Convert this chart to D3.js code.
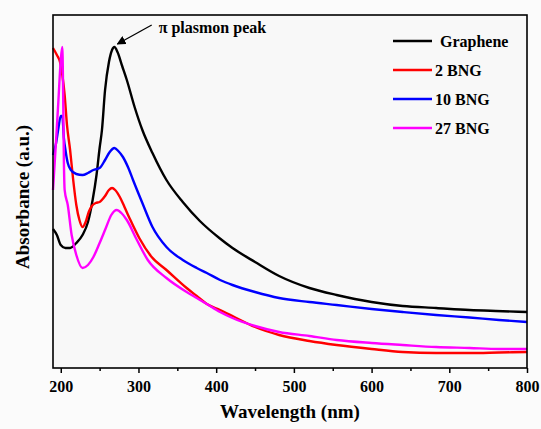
<!DOCTYPE html>
<html>
<head>
<meta charset="utf-8">
<script src="https://cdn.jsdelivr.net/npm/d3@7"></script>
<style>
  html, body { margin: 0; padding: 0; background: #fbfbfb; }
  svg { display: block; }
  text { font-family: "Liberation Serif", "Times New Roman", serif; font-weight: bold; fill: #000; }
</style>
</head>
<body>
<svg id="chart"></svg>
<script>
// wavelength (nm), absorbance (a.u.)
const graphene = [[190,1.39],[195,1.33],[200,1.23],[206,1.20],[212,1.20],[220,1.25],[228,1.33],[235,1.46],[241,1.68],[246,1.93],[250,2.20],[253,2.38],[257,2.78],[262,3.06],[266,3.18],[269,3.21],[273,3.16],[279,3.02],[285,2.88],[295,2.61],[305,2.38],[318,2.15],[336,1.88],[357,1.66],[379,1.47],[404,1.30],[421,1.20],[450,1.06],[481,0.92],[520,0.80],[555,0.73],[600,0.66],[640,0.62],[683,0.60],[726,0.58],[760,0.57],[800,0.56]];
const bng2 = [[190,3.20],[195,3.13],[199,3.06],[202,2.93],[205,2.73],[208,2.43],[212,2.18],[216,1.88],[220,1.63],[224,1.48],[228,1.41],[232,1.46],[236,1.56],[240,1.62],[245,1.65],[250,1.66],[257,1.72],[262,1.78],[266,1.80],[270,1.78],[276,1.71],[282,1.61],[289,1.49],[301,1.30],[317,1.11],[336,0.98],[362,0.80],[375,0.72],[388,0.64],[405,0.58],[421,0.52],[450,0.41],[481,0.33],[520,0.27],[555,0.23],[600,0.19],[640,0.16],[683,0.15],[726,0.15],[764,0.155],[800,0.16]];
const bng10 = [[190,2.13],[194,2.25],[197,2.40],[200,2.52],[202,2.52],[204,2.30],[206,2.18],[209,2.05],[213,1.98],[220,1.94],[228,1.93],[235,1.95],[242,1.98],[250,2.00],[257,2.08],[263,2.16],[269,2.20],[274,2.17],[280,2.11],[287,2.00],[293,1.88],[305,1.65],[318,1.41],[336,1.21],[357,1.08],[375,1.00],[388,0.95],[405,0.88],[421,0.83],[450,0.76],[481,0.70],[520,0.66],[555,0.63],[600,0.59],[640,0.56],[683,0.53],[726,0.505],[764,0.48],[800,0.46]];
const bng27 = [[190,1.78],[194,2.28],[197,2.68],[200,3.08],[202,3.21],[203,2.78],[204,2.08],[205,1.78],[209,1.63],[214,1.33],[220,1.13],[228,1.00],[235,1.03],[242,1.11],[250,1.25],[258,1.40],[265,1.53],[272,1.58],[278,1.55],[285,1.48],[298,1.28],[312,1.08],[336,0.90],[362,0.76],[375,0.70],[388,0.64],[405,0.56],[421,0.50],[450,0.42],[481,0.36],[520,0.32],[555,0.28],[600,0.25],[640,0.23],[683,0.21],[726,0.20],[764,0.19],[800,0.19]];

const seriesNames = ['Graphene', '2 BNG', '10 BNG', '27 BNG'];
const seriesColors = ['#000000', '#ff0000', '#0000ff', '#ff00ff'];
const seriesData = [graphene, bng2, bng10, bng27];
const xTicks = [200, 300, 400, 500, 600, 700, 800];
const xMinorTicks = [250, 350, 450, 550, 650, 750];

const W = 541, H = 429;
const margin = { top: 15, right: 14, bottom: 61, left: 53 };
const width = W - margin.left - margin.right;
const height = H - margin.top - margin.bottom;

const svg = d3.select('#chart').attr('width', W).attr('height', H);
const g = svg.append('g').attr('transform', `translate(${margin.left},${margin.top})`);

const x = d3.scaleLinear().domain([190, 800]).range([0, width]);
const y = d3.scaleLinear().domain([0, 3.53]).range([height, 0]);

// plot background
g.append('rect')
  .attr('width', width).attr('height', height)
  .attr('fill', '#f8f8f8');

// curves
const line = d3.line()
  .x(d => x(d[0]))
  .y(d => y(d[1]))
  .curve(d3.curveMonotoneX);

seriesData.forEach((data, i) => {
  g.append('path')
    .datum(data)
    .attr('fill', 'none')
    .attr('stroke', seriesColors[i])
    .attr('stroke-width', 2.4)
    .attr('stroke-linejoin', 'round')
    .attr('d', line);
});

// bottom axis
const xAxis = g.append('g')
  .attr('transform', `translate(0,${height})`)
  .call(d3.axisBottom(x).tickValues(xTicks).tickSize(5).tickPadding(8).tickFormat(d3.format('d')));
xAxis.select('.domain').remove();
xAxis.selectAll('line').attr('stroke-width', 1.5);
xAxis.selectAll('text').style('font-size', '16px');

g.append('g')
  .attr('transform', `translate(0,${height})`)
  .call(d3.axisBottom(x).tickValues(xMinorTicks).tickSize(3).tickFormat(''))
  .call(a => a.select('.domain').remove())
  .selectAll('line').attr('stroke-width', 1.5);

// frame
g.append('rect')
  .attr('width', width).attr('height', height)
  .attr('fill', 'none')
  .attr('stroke', '#000')
  .attr('stroke-width', 1.6);

// axis titles
svg.append('text')
  .attr('x', margin.left + width / 2)
  .attr('y', 418)
  .attr('text-anchor', 'middle')
  .style('font-size', '19px')
  .text('Wavelength (nm)');

svg.append('text')
  .attr('transform', `translate(29,${margin.top + 182}) rotate(-90)`)
  .attr('text-anchor', 'middle')
  .style('font-size', '19px')
  .text('Absorbance (a.u.)');

// legend
const legend = g.append('g').attr('transform', 'translate(340,26)');
seriesNames.forEach((name, i) => {
  const row = legend.append('g').attr('transform', `translate(0,${i * 29})`);
  row.append('line')
    .attr('x1', 0).attr('x2', 39)
    .attr('stroke', seriesColors[i])
    .attr('stroke-width', 2.4);
  row.append('text')
    .attr('x', i === 0 ? 47 : 42)
    .attr('dy', '0.35em')
    .style('font-size', '16px')
    .text(name);
});

// annotation
svg.append('defs').append('marker')
  .attr('id', 'arrow')
  .attr('viewBox', '0 0 10 10')
  .attr('refX', 9).attr('refY', 5)
  .attr('markerWidth', 7).attr('markerHeight', 7)
  .attr('orient', 'auto')
  .append('path')
  .attr('d', 'M0,0 L10,5 L0,10 z')
  .attr('fill', '#000');

const peak = graphene.reduce((a, b) => (b[1] > a[1] ? b : a));
g.append('line')
  .attr('x1', x(272) + 35).attr('y1', y(3.21) - 22)
  .attr('x2', x(peak[0]) + 3).attr('y2', y(peak[1]) - 3)
  .attr('stroke', '#000')
  .attr('stroke-width', 1.3)
  .attr('marker-end', 'url(#arrow)');

g.append('text')
  .attr('x', x(272) + 42)
  .attr('y', y(3.21) - 14)
  .style('font-size', '16px')
  .text('π plasmon peak');
</script>
</body>
</html>
